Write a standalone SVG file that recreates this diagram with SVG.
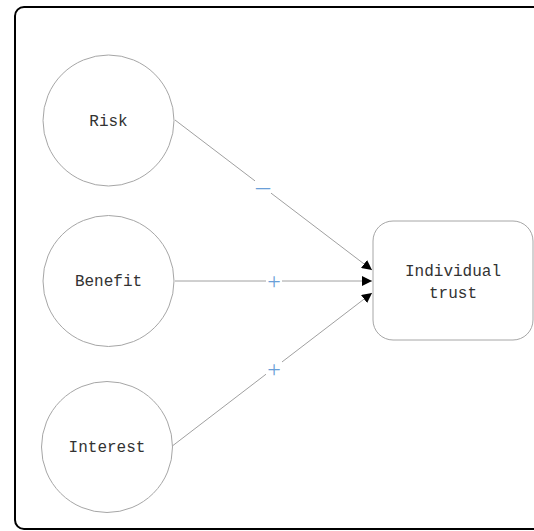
<svg xmlns="http://www.w3.org/2000/svg" width="534" height="531" viewBox="0 0 534 531">
<style>
.node{fill:#fff;stroke:#a6a6a6;stroke-width:1}
.t{font-family:"Liberation Mono",monospace;font-size:16px;fill:#333;text-anchor:middle}
.edge{stroke:#a0a0a0;stroke-width:1;fill:none}
.lbl{font-family:"Liberation Serif",serif;font-size:24px;fill:#6a9fd8;text-anchor:middle}
</style>
<defs>
<marker id="arr" viewBox="0 0 10 10" refX="10" refY="5" markerWidth="10" markerHeight="10" markerUnits="userSpaceOnUse" orient="auto">
<path d="M0,0 L10,5 L0,10 Z" fill="#000"/>
</marker>
</defs>
<rect x="0" y="0" width="534" height="531" fill="#fff"/>
<rect x="15" y="7" width="540" height="522" rx="9" fill="none" stroke="#000" stroke-width="2"/>
<g id="connectors">
<line class="edge" x1="175" y1="120" x2="372" y2="270" marker-end="url(#arr)"/>
<line class="edge" x1="175" y1="281" x2="372" y2="281" marker-end="url(#arr)"/>
<line class="edge" x1="171" y1="447" x2="372" y2="293" marker-end="url(#arr)"/>
<rect x="255" y="170" width="16" height="38" fill="#fff"/>
<text class="lbl" x="263" y="195" style="font-size:28px">–</text>
<rect x="266" y="262" width="16" height="38" fill="#fff"/>
<text class="lbl" x="274" y="289">+</text>
<rect x="266" y="350" width="16" height="38" fill="#fff"/>
<text class="lbl" x="274" y="377">+</text>
</g>
<g id="risk">
<circle class="node" cx="108.5" cy="120.5" r="65.5"/>
<text class="t" x="108.5" y="126">Risk</text>
</g>
<g id="benefit">
<circle class="node" cx="108.5" cy="281" r="65.5"/>
<text class="t" x="108.5" y="286">Benefit</text>
</g>
<g id="interest">
<circle class="node" cx="107" cy="447" r="65.5"/>
<text class="t" x="107" y="452">Interest</text>
</g>
<g id="individual-trust">
<rect class="node" x="373" y="221" width="160" height="119" rx="20"/>
<text class="t" x="453" y="276">Individual</text>
<text class="t" x="453" y="298">trust</text>
</g>
</svg>
